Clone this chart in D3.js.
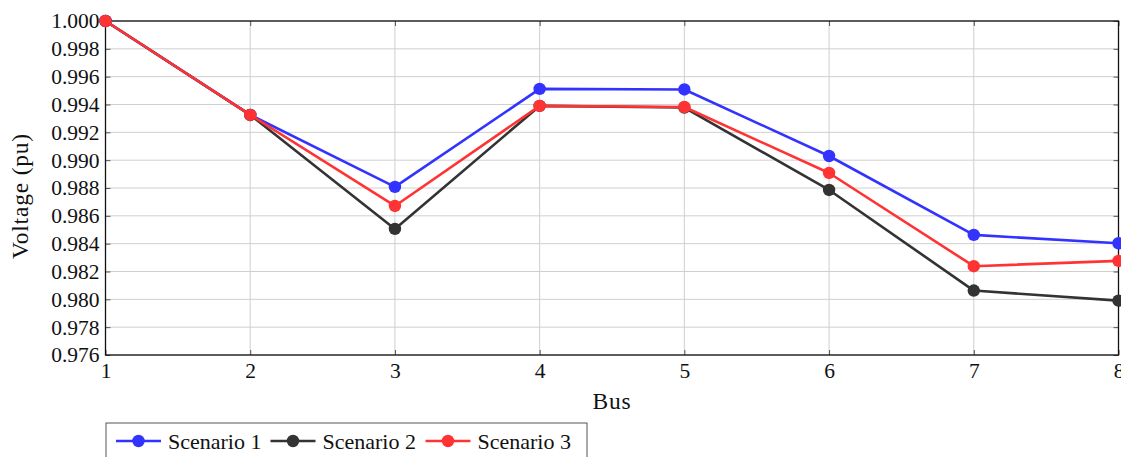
<!DOCTYPE html>
<html>
<head>
<meta charset="utf-8">
<script src="https://cdn.jsdelivr.net/npm/d3@7"></script>
<style>
  html, body { margin: 0; padding: 0; background: #fff; overflow: hidden; }
  svg { display: block; }
  text { font-family: "Liberation Serif", "DejaVu Serif", serif; fill: #111; }
</style>
</head>
<body>
<svg id="chart" width="1121" height="457"></svg>
<script>
// Bus voltage profile for three scenarios
const buses = [1, 2, 3, 4, 5, 6, 7, 8];
const scenario1 = [1.0000, 0.99325, 0.98808, 0.99512, 0.99508, 0.99030, 0.98463, 0.98403];
const scenario2 = [1.0000, 0.99325, 0.98506, 0.99390, 0.99378, 0.98786, 0.98063, 0.97991];
const scenario3 = [1.0000, 0.99325, 0.98671, 0.99390, 0.99382, 0.98908, 0.98238, 0.98276];
const seriesNames = ["Scenario 1", "Scenario 2", "Scenario 3"];
const seriesColors = ["#3333ff", "#333333", "#ff3333"];
const yTicks = [0.976, 0.978, 0.980, 0.982, 0.984, 0.986, 0.988, 0.990, 0.992, 0.994, 0.996, 0.998, 1.000];

const svg = d3.select("#chart");
const plotL = 105.5, plotR = 1118.5, plotT = 21, plotB = 355;
const serif = '"Liberation Serif", "DejaVu Serif", serif';

const x = d3.scaleLinear().domain([1, 8]).range([plotL, plotR]);
const y = d3.scaleLinear().domain([0.976, 1.000]).range([plotB, plotT]);

// grid
const grid = svg.append("g");
grid.selectAll("line.gx").data(buses).join("line")
  .attr("x1", d => x(d)).attr("x2", d => x(d))
  .attr("y1", plotT).attr("y2", plotB)
  .attr("stroke", "#cfcfcf").attr("stroke-width", 1);
grid.selectAll("line.gy").data(yTicks).join("line")
  .attr("x1", plotL).attr("x2", plotR)
  .attr("y1", d => y(d)).attr("y2", d => y(d))
  .attr("stroke", "#cfcfcf").attr("stroke-width", 1);

// axes (inward ticks on every side)
const fmt = d3.format(".3f");
const axL = svg.append("g").attr("transform", `translate(${plotL},0)`)
  .call(d3.axisLeft(y).tickValues(yTicks).tickFormat(fmt).tickSizeInner(-5).tickSizeOuter(0).tickPadding(6));
const axR = svg.append("g").attr("transform", `translate(${plotR},0)`)
  .call(d3.axisRight(y).tickValues(yTicks).tickFormat("").tickSizeInner(-5).tickSizeOuter(0));
const axB = svg.append("g").attr("transform", `translate(0,${plotB})`)
  .call(d3.axisBottom(x).tickValues(buses).tickFormat(d3.format("d")).tickSizeInner(-5).tickSizeOuter(0).tickPadding(8));
const axT = svg.append("g").attr("transform", `translate(0,${plotT})`)
  .call(d3.axisTop(x).tickValues(buses).tickFormat("").tickSizeInner(-5).tickSizeOuter(0));
[axL, axR, axB, axT].forEach(a => {
  a.attr("font-family", serif);
  a.select(".domain").remove();
  a.selectAll(".tick line").attr("stroke", "#555");
  a.selectAll("text").attr("font-size", 21.5).attr("fill", "#111")
    .style("font-family", serif);
});

// frame
svg.append("rect").attr("x", plotL).attr("y", plotT)
  .attr("width", plotR - plotL).attr("height", plotB - plotT)
  .attr("fill", "none").attr("stroke", "#111").attr("stroke-width", 1.3);

// axis titles
svg.append("text").attr("x", x(4.5)).attr("y", 409)
  .attr("text-anchor", "middle").attr("font-size", 23.5)
  .attr("letter-spacing", 0.8).style("font-family", serif).text("Bus");
svg.append("text")
  .attr("transform", `translate(28,${196}) rotate(-90)`)
  .attr("text-anchor", "middle").attr("font-size", 23.5)
  .attr("letter-spacing", 0.8).style("font-family", serif).text("Voltage (pu)");

// series
const allSeries = [scenario1, scenario2, scenario3];
const line = d3.line().x((d, i) => x(buses[i])).y(d => y(d));
allSeries.forEach((vals, k) => {
  const g = svg.append("g");
  g.append("path").datum(vals).attr("d", line)
    .attr("fill", "none").attr("stroke", seriesColors[k]).attr("stroke-width", 2.6)
    .attr("stroke-linejoin", "round");
  g.selectAll("circle").data(vals).join("circle")
    .attr("cx", (d, i) => x(buses[i])).attr("cy", d => y(d)).attr("r", 6.2)
    .attr("fill", seriesColors[k]);
});

// legend
const legend = svg.append("g");
legend.append("rect").attr("x", 106).attr("y", 423).attr("width", 481).attr("height", 45)
  .attr("fill", "#fff").attr("stroke", "#555").attr("stroke-width", 1);
const legendX = [116, 270.5, 425.5];
seriesNames.forEach((name, k) => {
  const lx = legendX[k];
  legend.append("line").attr("x1", lx).attr("x2", lx + 45).attr("y1", 441).attr("y2", 441)
    .attr("stroke", seriesColors[k]).attr("stroke-width", 2.6);
  legend.append("circle").attr("cx", lx + 22.5).attr("cy", 441).attr("r", 6.2)
    .attr("fill", seriesColors[k]);
  legend.append("text").attr("x", lx + 52).attr("y", 448.5).attr("font-size", 22)
    .style("font-family", serif).text(name);
});
</script>
</body>
</html>
